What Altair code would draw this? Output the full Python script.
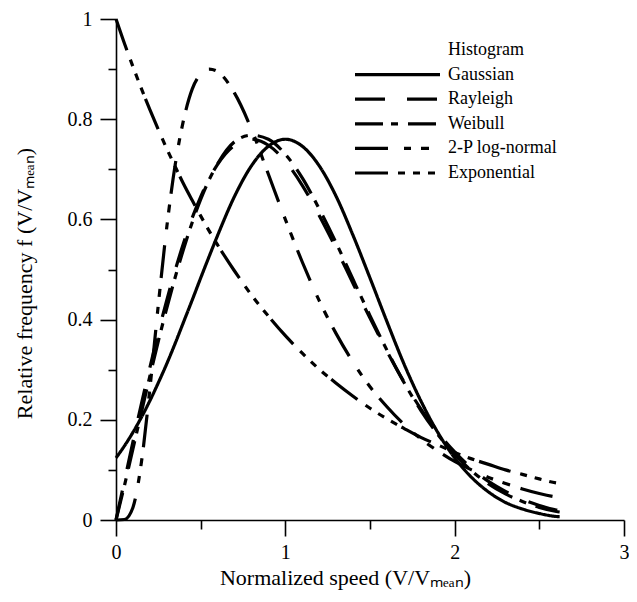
import altair as alt
import pandas as pd

# Normalized speed grid (V/Vmean)
x_vals = [0, 0.05, 0.1, 0.15, 0.2, 0.25, 0.3, 0.35, 0.4, 0.45, 0.5, 0.55, 0.6,
          0.7, 0.8, 0.9, 1.0, 1.1, 1.2, 1.3, 1.4, 1.5, 1.6, 1.7, 1.8, 1.9, 2.0,
          2.1, 2.2, 2.3, 2.4, 2.5, 2.6, 2.62]

gaussian = [0.124, 0.148, 0.175, 0.205, 0.238, 0.274, 0.312, 0.353, 0.396, 0.439, 0.483, 0.526, 0.568,
            0.646, 0.707, 0.746, 0.760, 0.746, 0.707, 0.646, 0.568, 0.483, 0.396, 0.312, 0.238, 0.175, 0.124,
            0.085, 0.056, 0.035, 0.022, 0.013, 0.007, 0.0065]

rayleigh = [0.0, 0.078, 0.156, 0.232, 0.304, 0.374, 0.439, 0.499, 0.554, 0.603, 0.645, 0.681, 0.710,
            0.748, 0.760, 0.748, 0.716, 0.668, 0.608, 0.542, 0.472, 0.403, 0.337, 0.276, 0.222, 0.175, 0.136,
            0.103, 0.077, 0.057, 0.041, 0.029, 0.020, 0.019]

weibull = [0.0, 0.069, 0.142, 0.215, 0.287, 0.357, 0.423, 0.485, 0.542, 0.594, 0.640, 0.679, 0.711,
           0.755, 0.768, 0.760, 0.730, 0.683, 0.621, 0.553, 0.480, 0.408, 0.339, 0.275, 0.219, 0.171, 0.131,
           0.098, 0.072, 0.052, 0.037, 0.025, 0.017, 0.016]

lognormal = [0.0, 0.001, 0.025, 0.115, 0.262, 0.430, 0.585, 0.710, 0.800, 0.860, 0.890, 0.900, 0.895,
             0.852, 0.780, 0.690, 0.600, 0.515, 0.438, 0.372, 0.315, 0.266, 0.226, 0.191, 0.162, 0.138, 0.117,
             0.100, 0.085, 0.073, 0.062, 0.053, 0.046, 0.045]

exponential = [1.0, 0.951, 0.905, 0.861, 0.819, 0.779, 0.741, 0.705, 0.670, 0.638, 0.607, 0.577, 0.549,
               0.497, 0.449, 0.407, 0.368, 0.333, 0.301, 0.273, 0.247, 0.223, 0.202, 0.183, 0.165, 0.150, 0.135,
               0.122, 0.111, 0.100, 0.091, 0.082, 0.074, 0.073]

series_names = ["Histogram", "Gaussian", "Rayleigh", "Weibull", "2-P log-normal", "Exponential"]
dash_styles = [[0, 100], [1, 0], [30, 22], [28, 8, 7, 10], [33, 16, 7, 10, 8, 11],
               [33, 10, 7, 8, 7, 8, 7, 5]]

x_major = [0, 1, 2, 3]
x_minor = [0.5, 1.5, 2.5]
y_major = [0, 0.2, 0.4, 0.6, 0.8, 1.0]
y_minor = [0.1, 0.3, 0.5, 0.7, 0.9]

rows = []
for name, ys in [("Gaussian", gaussian), ("Rayleigh", rayleigh), ("Weibull", weibull),
                 ("2-P log-normal", lognormal), ("Exponential", exponential)]:
    for i, (xv, yv) in enumerate(zip(x_vals, ys)):
        rows.append({"series": name, "x": xv, "y": yv, "order": i})
df = pd.DataFrame(rows)

FONT = "Liberation Serif"
x_scale = alt.Scale(domain=[0, 3], nice=False, zero=False)
y_scale = alt.Scale(domain=[0, 1], nice=False)

x_axis = alt.Axis(
    orient="bottom", values=x_major, format="d",
    tickSize=16, tickWidth=1.6, tickColor="black", domainColor="black", domainWidth=1.6,
    labelFont=FONT, labelFontSize=20, labelColor="black", labelPadding=6,
    labelFlush=False, labelOverlap=False, grid=False,
    title="Normalized speed (V/Vₘₑₐₙ)", titleFont=FONT, titleFontSize=22,
    titleFontWeight="normal", titleColor="black",
    titleX=229, titleY=47, titleAlign="center", titleBaseline="top",
)

y_axis = alt.Axis(
    orient="left", values=y_major, format=".1~f",
    tickSize=16, tickWidth=1.6, tickColor="black", domainColor="black", domainWidth=1.6,
    labelFont=FONT, labelFontSize=20, labelColor="black", labelPadding=8,
    labelFlush=False, labelOverlap=False, grid=False,
    title="Relative frequency f (V/Vₘₑₐₙ)", titleFont=FONT, titleFontSize=22,
    titleFontWeight="normal", titleColor="black",
    titleX=-80, titleY=264, titleAlign="center", titleBaseline="bottom", titleAngle=270,
)

x_axis_minor = alt.Axis(
    orient="bottom", values=x_minor, tickSize=9, tickWidth=1.6, tickColor="black",
    labels=False, domain=False, grid=False, title=None,
)
y_axis_minor = alt.Axis(
    orient="left", values=y_minor, tickSize=8, tickWidth=1.6, tickColor="black",
    labels=False, domain=False, grid=False, title=None,
)

lines = alt.Chart(df).mark_line(
    color="black", strokeWidth=3.2, interpolate="monotone", strokeCap="butt"
).encode(
    x=alt.X("x:Q", scale=x_scale, axis=x_axis),
    y=alt.Y("y:Q", scale=y_scale, axis=y_axis),
    strokeDash=alt.StrokeDash(
        "series:N",
        scale=alt.Scale(domain=series_names, range=dash_styles),
        legend=alt.Legend(
            title=None, orient="none", legendX=237, legendY=22,
            symbolType="stroke", symbolSize=7225, symbolStrokeWidth=3.2,
            symbolStrokeColor="black", clipHeight=18, padding=0,
            labelFont=FONT, labelFontSize=18, labelColor="black",
            labelOffset=6, rowPadding=6.6,
        ),
    ),
    order="order:Q",
)

minor = alt.Chart(df).mark_line(opacity=0).encode(
    x=alt.X("x:Q", scale=x_scale, axis=x_axis_minor),
    y=alt.Y("y:Q", scale=y_scale, axis=y_axis_minor),
    detail="series:N",
)

chart = alt.layer(lines, minor).resolve_axis(
    x="independent", y="independent"
).properties(
    width=508, height=501,
    padding={"left": 108, "top": 11, "right": 5, "bottom": 72},
    autosize=alt.AutoSizeParams(type="none"),
).configure_view(stroke=None)

chart.save("out.html", embed_options={"renderer": "svg", "actions": False})
